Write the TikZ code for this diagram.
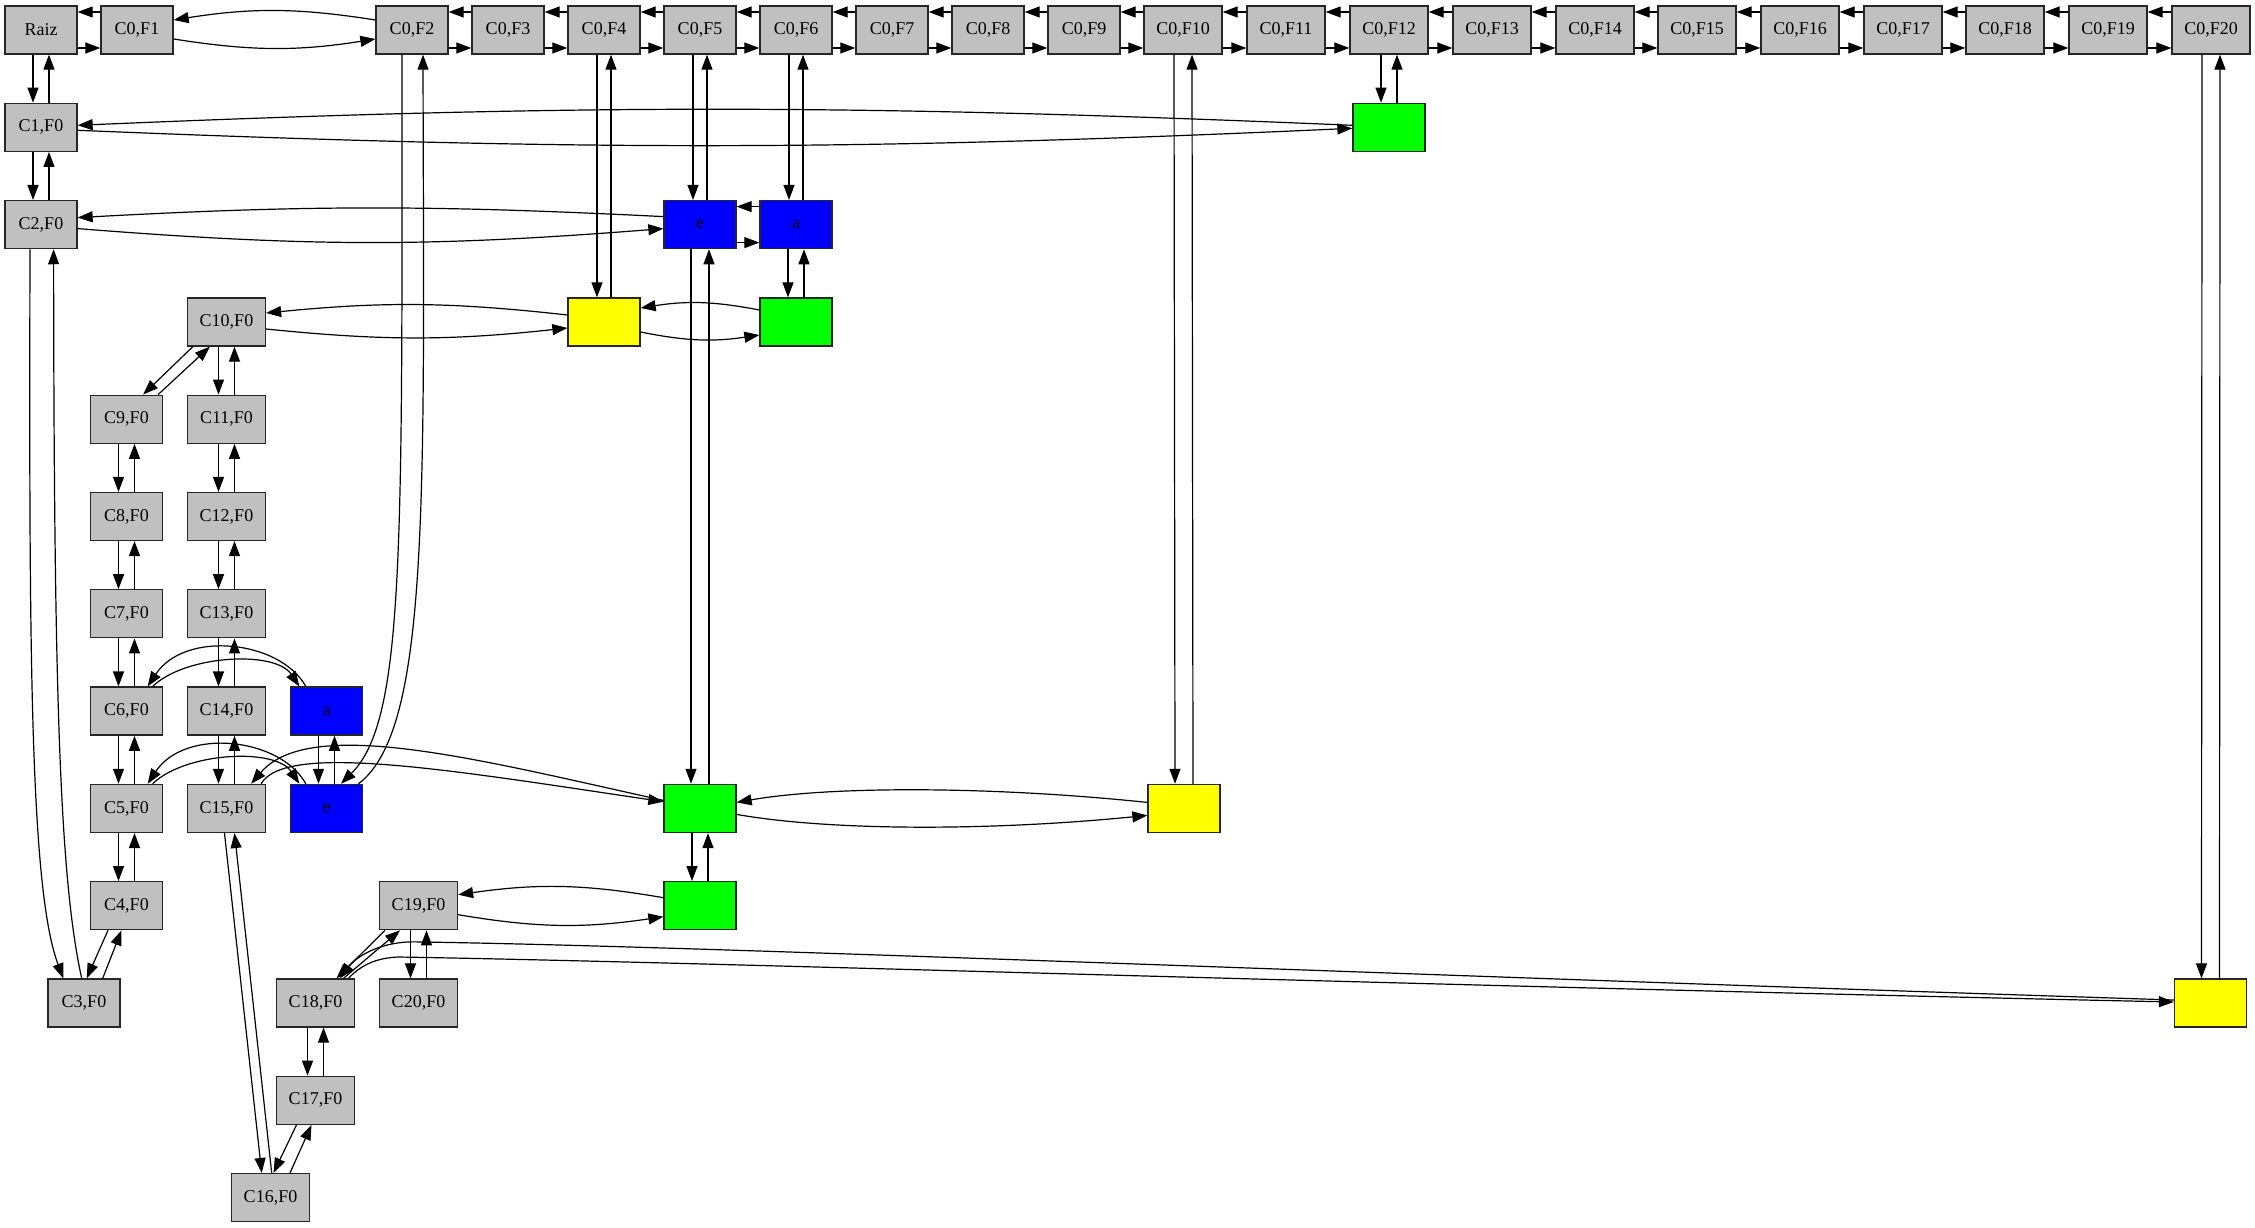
\documentclass[tikz,border=0pt]{standalone}
\usepackage{fontspec}
\setmainfont{Liberation Serif}
\usetikzlibrary{arrows.meta}
\definecolor{ngray}{RGB}{192,192,192}
\definecolor{nblue}{RGB}{0,0,255}
\definecolor{ngreen}{RGB}{0,255,0}
\definecolor{nyellow}{RGB}{255,255,0}
\begin{document}
\begin{tikzpicture}[x=1pt,y=1pt,
  nd/.style={draw=black!85, line width=1.3pt, minimum height=48pt, minimum width=72pt, inner sep=0pt, font=\fontsize{18}{20}\selectfont, fill=ngray},
  wd/.style={nd, minimum width=78pt},
  bl/.style={nd, fill=nblue},
  gr/.style={nd, fill=ngreen},
  yl/.style={nd, fill=nyellow},
  arr/.style={-{Triangle[length=15pt,width=11pt]}, line width=1.2pt},
]
\useasboundingbox (0,0) rectangle (2255,-1228);
% top row
\node[nd] (r0) at (41,-30) {Raiz};
\node[nd] (t1) at (137,-30) {C0,F1};
\node[nd] (t2) at (412,-30) {C0,F2};
\node[nd] (t3) at (508,-30) {C0,F3};
\node[nd] (t4) at (604,-30) {C0,F4};
\node[nd] (t5) at (700,-30) {C0,F5};
\node[nd] (t6) at (796,-30) {C0,F6};
\node[nd] (t7) at (892,-30) {C0,F7};
\node[nd] (t8) at (988,-30) {C0,F8};
\node[nd] (t9) at (1084,-30) {C0,F9};
\node[wd] (t10) at (1183,-30) {C0,F10};
\node[wd] (t11) at (1286,-30) {C0,F11};
\node[wd] (t12) at (1389,-30) {C0,F12};
\node[wd] (t13) at (1492,-30) {C0,F13};
\node[wd] (t14) at (1595,-30) {C0,F14};
\node[wd] (t15) at (1697,-30) {C0,F15};
\node[wd] (t16) at (1800,-30) {C0,F16};
\node[wd] (t17) at (1903,-30) {C0,F17};
\node[wd] (t18) at (2005,-30) {C0,F18};
\node[wd] (t19) at (2108,-30) {C0,F19};
\node[wd] (t20) at (2211,-30) {C0,F20};
% left columns
\node[nd] (c1) at (41,-127.3) {C1,F0};
\node[nd] (c2) at (41,-224.6) {C2,F0};
\node[nd] (c3) at (84,-1003) {C3,F0};
\node[nd] (c4) at (126.5,-905.7) {C4,F0};
\node[nd] (c5) at (126.5,-808.4) {C5,F0};
\node[nd] (c6) at (126.5,-711.1) {C6,F0};
\node[nd] (c7) at (126.5,-613.8) {C7,F0};
\node[nd] (c8) at (126.5,-516.5) {C8,F0};
\node[nd] (c9) at (126.5,-419.2) {C9,F0};
\node[wd] (c10) at (226.5,-322) {C10,F0};
\node[wd] (c11) at (226.5,-419.2) {C11,F0};
\node[wd] (c12) at (226.5,-516.5) {C12,F0};
\node[wd] (c13) at (226.5,-613.8) {C13,F0};
\node[wd] (c14) at (226.5,-711.1) {C14,F0};
\node[wd] (c15) at (226.5,-808.4) {C15,F0};
\node[wd] (c16) at (270.5,-1197.6) {C16,F0};
\node[wd] (c17) at (315.5,-1100.3) {C17,F0};
\node[wd] (c18) at (315.5,-1003) {C18,F0};
\node[wd] (c19) at (418.5,-905.7) {C19,F0};
\node[wd] (c20) at (418.5,-1003) {C20,F0};
% coloured nodes
\node[gr] (g1) at (1389,-127.3) {};
\node[bl] (eB) at (700,-224.6) {e};
\node[bl] (aB) at (796,-224.6) {a};
\node[yl] (y1) at (604,-322) {};
\node[gr] (g2) at (796,-322) {};
\node[bl] (aL) at (326.5,-711.1) {a};
\node[bl] (eL) at (326.5,-808.4) {e};
\node[gr] (g3) at (700,-808.4) {};
\node[yl] (y2) at (1184,-808.4) {};
\node[gr] (g4) at (700,-905.7) {};
\node[yl] (y3) at (2210.5,-1003) {};

% top chain
\foreach \a/\b in {r0/t1,t2/t3,t3/t4,t4/t5,t5/t6,t6/t7,t7/t8,t8/t9,t9/t10,t10/t11,t11/t12,t12/t13,t13/t14,t14/t15,t15/t16,t16/t17,t17/t18,t18/t19,t19/t20}{
  \draw[arr] ([yshift=-18pt]\a.east) -- ([yshift=-18pt]\b.west);
  \draw[arr] ([yshift=18pt]\b.west) -- ([yshift=18pt]\a.east);
}
\draw[arr] ([yshift=10pt]t2.west) to[bend right=9] ([yshift=10pt]t1.east);
\draw[arr] ([yshift=-9pt]t1.east) to[bend right=9] ([yshift=-9pt]t2.west);

% vertical pairs
\foreach \a/\b/\o in {r0/c1/8,c1/c2/8,t12/g1/8,t6/aB/7,aB/g2/8,c9/c8/8,c8/c7/8,c7/c6/8,c6/c5/8,c5/c4/8,c10/c11/8,c11/c12/8,c12/c13/8,c13/c14/8,c14/c15/8,aL/eL/8,g3/g4/8,c18/c17/8,c19/c20/8,t5/eB/7,t4/y1/7,eB/g3/9,t10/y2/9,t20/y3/9}{
  \draw[arr] ([xshift=-\o*1pt]\a.south) -- ([xshift=-\o*1pt]\b.north);
  \draw[arr] ([xshift=\o*1pt]\b.north) -- ([xshift=\o*1pt]\a.south);
}

% diagonal pairs
\draw[arr] ([xshift=6pt]c10.south west) -- ([xshift=-20pt]c9.north east);
\draw[arr] ([xshift=-5pt]c9.north east) -- ([xshift=23pt]c10.south west);
\draw[arr] ([xshift=-18.5pt]c4.south) -- ([xshift=2.7pt]c3.north);
\draw[arr] ([xshift=18.7pt]c3.north) -- ([xshift=-5pt]c4.south);
\draw[arr] ([xshift=-19pt]c17.south) -- ([xshift=3pt]c16.north);
\draw[arr] ([xshift=19.5pt]c16.north) -- ([xshift=-4pt]c17.south);
\draw[arr] ([xshift=-33.5pt]c19.south) -- ([xshift=21pt]c18.north);
\draw[arr] ([xshift=28pt]c18.north) -- ([xshift=-18.5pt]c19.south);

% long left edges
\draw[arr] ([xshift=-11pt]c2.south) .. controls (29,-650) and (30,-890) .. ([xshift=-20.7pt]c3.north);
\draw[arr] ([xshift=-2.3pt]c3.north) .. controls (60,-880) and (54,-700) .. ([xshift=12.6pt]c2.south);
\draw[arr] ([xshift=-2pt]c15.south) -- ([xshift=-8.8pt]c16.north);
\draw[arr] ([xshift=1.2pt]c16.north) -- ([xshift=8pt]c15.south);

% C0,F2 <-> lower e
\draw[arr] ([xshift=-10pt]t2.south) .. controls (402,-550) and (405,-720) .. ([xshift=14.5pt]eL.north);
\draw[arr] ([xshift=32pt]eL.north) .. controls (430,-730) and (424,-500) .. ([xshift=11pt]t2.south);

% horizontal arcs
\draw[arr] ([yshift=8pt]eB.west) .. controls (430,-205) and (310,-205) .. ([yshift=7pt]c2.east);
\draw[arr] ([yshift=-4pt]c2.east) .. controls (310,-247) and (430,-247) .. ([yshift=-4pt]eB.west);
\draw[arr] ([yshift=2pt]g1.west) .. controls (850,-104) and (580,-104) .. ([yshift=2pt]c1.east);
\draw[arr] ([yshift=-3pt]c1.east) .. controls (580,-151) and (850,-151) .. ([yshift=-1pt]g1.west);
\draw[arr] ([yshift=7pt]y1.west) to[bend right=6] ([yshift=9pt]c10.east);
\draw[arr] ([yshift=-7pt]c10.east) to[bend right=6] ([yshift=-6pt]y1.west);
\draw[arr] ([yshift=12pt]g2.west) to[bend right=10] ([yshift=14pt]y1.east);
\draw[arr] ([yshift=-10pt]y1.east) to[bend right=10] ([yshift=-13pt]g2.west);
\draw[arr] ([yshift=18pt]aB.west) -- ([yshift=18pt]eB.east);
\draw[arr] ([yshift=-18pt]eB.east) -- ([yshift=-18pt]aB.west);
\draw[arr] ([yshift=6pt]y2.west) .. controls (990,-786) and (830,-786) .. ([yshift=6pt]g3.east);
\draw[arr] ([yshift=-6pt]g3.east) .. controls (830,-831) and (990,-831) .. ([yshift=-7pt]y2.west);
\draw[arr] ([yshift=8pt]g4.west) to[bend right=9] ([yshift=11pt]c19.east);
\draw[arr] ([yshift=-9pt]c19.east) to[bend right=9] ([yshift=-11pt]g4.west);

% arcs over the grid
\draw[arr] ([xshift=16pt]aL.north west) .. controls (280,-640) and (185,-630) .. ([xshift=-15.5pt]c6.north east);
\draw[arr] ([xshift=-10.5pt]c6.north east) .. controls (185,-655) and (275,-650) .. ([xshift=9.5pt]aL.north west);
\draw[arr] ([xshift=16pt]eL.north west) .. controls (280,-737.3) and (185,-727.3) .. ([xshift=-15.5pt]c5.north east);
\draw[arr] ([xshift=-10.5pt]c5.north east) .. controls (185,-752.3) and (275,-747.3) .. ([xshift=9.5pt]eL.north west);
\draw[arr] ([yshift=8pt]g3.west) .. controls (480,-760) and (310,-715) .. ([xshift=-15pt]c15.north east);
\draw[arr] ([xshift=-5pt]c15.north east) .. controls (285,-742) and (450,-770) .. ([yshift=6.7pt]g3.west);

% C18,F0 <-> far yellow
\draw[arr] ([yshift=3pt]y3.west) .. controls (1400,-975) and (700,-946) .. (420,-942) .. controls (380,-940) and (355,-958) .. ([xshift=24.5pt]c18.north);
\draw[arr] ([xshift=33pt]c18.north) .. controls (360,-966) and (375,-958) .. (398,-957) .. controls (700,-962) and (1400,-985) .. ([yshift=1pt]y3.west);
\end{tikzpicture}
\end{document}
